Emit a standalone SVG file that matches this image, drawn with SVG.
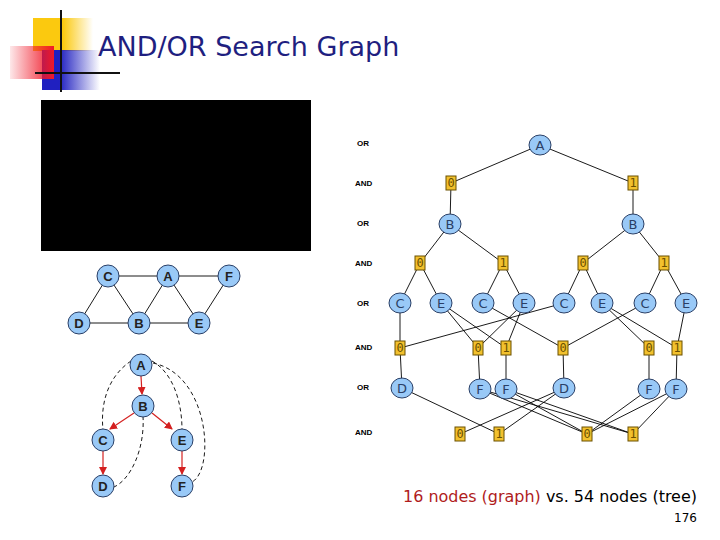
<svg xmlns="http://www.w3.org/2000/svg" width="720" height="540" viewBox="0 0 720 540">
<defs>
<style>
.c{fill:#99c9f7;stroke:#2a3f66;stroke-width:1}
.r{fill:#f2c12e;stroke:#6b5000;stroke-width:1}
.t{font-family:"DejaVu Sans",sans-serif;font-size:13px;fill:#2a3f66;text-anchor:middle;dominant-baseline:central}
.tb{font-family:"Liberation Sans",sans-serif;font-weight:bold;font-size:13px;fill:#222;text-anchor:middle;dominant-baseline:central}
.rt{font-family:"DejaVu Sans Mono",monospace;font-size:12px;fill:#6b5000;text-anchor:middle;dominant-baseline:central}
.lv{font-family:"Liberation Sans",sans-serif;font-weight:bold;font-size:8px;fill:#000}
.e line,.e path{stroke:#000;stroke-width:0.9;fill:none}
.red{stroke:#d42020!important;stroke-width:1.2!important}
.dash{stroke-dasharray:4,3}
</style>
<marker id="ah" markerWidth="8" markerHeight="8" refX="7" refY="4" orient="auto" markerUnits="userSpaceOnUse"><path d="M0,0 L8,4 L0,8 Z" fill="#d42020"/></marker>
<linearGradient id="gy" x1="0" x2="1"><stop offset="0.5" stop-color="#fbc90f"/><stop offset="1" stop-color="#fbc90f" stop-opacity="0"/></linearGradient>
<linearGradient id="gr" x1="1" x2="0"><stop offset="0" stop-color="#f01828"/><stop offset="1" stop-color="#f01828" stop-opacity="0.1"/></linearGradient>
<linearGradient id="gb" x1="0" x2="1"><stop offset="0.3" stop-color="#2020c0"/><stop offset="1" stop-color="#2020c0" stop-opacity="0"/></linearGradient>
</defs>
<rect width="720" height="540" fill="#fff"/>
<g id="logo">
<rect x="33" y="18" width="60" height="33" fill="url(#gy)"/>
<rect x="42" y="50" width="58" height="40" fill="url(#gb)"/>
<rect x="10" y="46" width="44" height="33" fill="url(#gr)"/>
<line x1="61" y1="10" x2="61" y2="92" stroke="#111" stroke-width="2"/>
<line x1="35" y1="73" x2="120" y2="73" stroke="#111" stroke-width="2"/>
</g>
<text x="98" y="56" font-family="'DejaVu Sans',sans-serif" font-size="27" fill="#1f1f80">AND/OR Search Graph</text>
<rect x="41" y="100" width="270" height="151" fill="#000"/>

<g class="e" id="connectors">
<!-- left graph -->
<line x1="108" y1="276" x2="168" y2="276"/><line x1="168" y1="276" x2="229" y2="276"/>
<line x1="108" y1="276" x2="79" y2="323"/><line x1="108" y1="276" x2="139" y2="323"/>
<line x1="168" y1="276" x2="139" y2="323"/><line x1="168" y1="276" x2="199" y2="323"/>
<line x1="229" y1="276" x2="199" y2="323"/>
<line x1="79" y1="323" x2="199" y2="323"/>
<!-- left tree -->
<line class="red" x1="141" y1="376" x2="142" y2="394" marker-end="url(#ah)"/>
<line class="red" x1="134" y1="413" x2="110" y2="429" marker-end="url(#ah)"/>
<line class="red" x1="152" y1="413" x2="172" y2="429" marker-end="url(#ah)"/>
<line class="red" x1="103" y1="451" x2="103" y2="474" marker-end="url(#ah)"/>
<line class="red" x1="182" y1="451" x2="182" y2="474" marker-end="url(#ah)"/>
<path class="dash" d="M131,361 C110,375 100,400 103,430"/>
<path class="dash" d="M152,361 C172,372 182,400 182,430"/>
<path class="dash" d="M153,363 C210,375 215,470 192,482"/>
<path class="dash" d="M143,416 C145,450 130,480 114,487"/>
<!-- right tree -->
<line x1="540" y1="145" x2="451" y2="183"/><line x1="540" y1="145" x2="633" y2="183"/>
<line x1="451" y1="183" x2="450" y2="224"/><line x1="633" y1="183" x2="633" y2="224"/>
<line x1="450" y1="224" x2="420" y2="263"/><line x1="450" y1="224" x2="503" y2="263"/>
<line x1="633" y1="224" x2="583" y2="263"/><line x1="633" y1="224" x2="664" y2="263"/>
<line x1="420" y1="263" x2="400" y2="303"/><line x1="420" y1="263" x2="441" y2="303"/>
<line x1="503" y1="263" x2="483" y2="303"/><line x1="503" y1="263" x2="524" y2="303"/>
<line x1="583" y1="263" x2="564" y2="303"/><line x1="583" y1="263" x2="602" y2="303"/>
<line x1="664" y1="263" x2="645" y2="303"/><line x1="664" y1="263" x2="686" y2="303"/>
<line x1="400" y1="303" x2="400" y2="348"/>
<line x1="441" y1="303" x2="478" y2="348"/><line x1="441" y1="303" x2="506" y2="348"/>
<line x1="524" y1="303" x2="478" y2="348"/><line x1="524" y1="303" x2="506" y2="348"/>
<line x1="564" y1="303" x2="400" y2="348"/>
<line x1="483" y1="303" x2="563" y2="348"/><line x1="645" y1="303" x2="563" y2="348"/>
<line x1="602" y1="303" x2="649" y2="348"/><line x1="602" y1="303" x2="677" y2="348"/>
<line x1="686" y1="303" x2="677" y2="348"/>
<line x1="400" y1="348" x2="402" y2="388"/><line x1="478" y1="348" x2="480" y2="389"/>
<line x1="506" y1="348" x2="506" y2="389"/><line x1="563" y1="348" x2="564" y2="388"/>
<line x1="649" y1="348" x2="649" y2="389"/><line x1="677" y1="348" x2="676" y2="389"/>
<line x1="402" y1="388" x2="499" y2="434"/>
<line x1="480" y1="389" x2="587" y2="434"/><line x1="480" y1="389" x2="633" y2="434"/>
<line x1="506" y1="389" x2="587" y2="434"/><line x1="506" y1="389" x2="633" y2="434"/>
<line x1="564" y1="388" x2="460" y2="434"/><line x1="564" y1="388" x2="499" y2="434"/>
<line x1="649" y1="389" x2="587" y2="434"/>
<line x1="676" y1="389" x2="587" y2="434"/><line x1="676" y1="389" x2="633" y2="434"/>
</g>

<g id="g-left">
<g id="lC"><circle class="c" cx="108" cy="276" r="11"/><text class="tb" x="108" y="276">C</text></g>
<g id="lA"><circle class="c" cx="168" cy="276" r="11"/><text class="tb" x="168" y="276">A</text></g>
<g id="lF"><circle class="c" cx="229" cy="276" r="11"/><text class="tb" x="229" y="276">F</text></g>
<g id="lD"><circle class="c" cx="79" cy="323" r="11"/><text class="tb" x="79" y="323">D</text></g>
<g id="lB"><circle class="c" cx="139" cy="323" r="11"/><text class="tb" x="139" y="323">B</text></g>
<g id="lE"><circle class="c" cx="199" cy="323" r="11"/><text class="tb" x="199" y="323">E</text></g>
<g id="tA"><circle class="c" cx="141" cy="365" r="11"/><text class="tb" x="141" y="365">A</text></g>
<g id="tB"><circle class="c" cx="143" cy="406" r="11"/><text class="tb" x="143" y="406">B</text></g>
<g id="tC"><circle class="c" cx="103" cy="440" r="11"/><text class="tb" x="103" y="440">C</text></g>
<g id="tE"><circle class="c" cx="182" cy="440" r="11"/><text class="tb" x="182" y="440">E</text></g>
<g id="tD"><circle class="c" cx="103" cy="486" r="11"/><text class="tb" x="103" y="486">D</text></g>
<g id="tF"><circle class="c" cx="182" cy="486" r="11"/><text class="tb" x="182" y="486">F</text></g>
</g>

<g id="levels">
<text class="lv" x="357" y="146">OR</text><text class="lv" x="355" y="186">AND</text>
<text class="lv" x="357" y="226">OR</text><text class="lv" x="355" y="266">AND</text>
<text class="lv" x="357" y="306">OR</text><text class="lv" x="355" y="350">AND</text>
<text class="lv" x="357" y="390">OR</text><text class="lv" x="355" y="435">AND</text>
</g>

<g id="g-tree">
<g id="nA"><ellipse class="c" cx="540" cy="145" rx="11" ry="10"/><text class="t" x="540" y="145">A</text></g>
<g id="n0a"><rect class="r" x="446" y="176" width="10" height="14"/><text class="rt" x="451" y="183">0</text></g>
<g id="n1a"><rect class="r" x="628" y="176" width="10" height="14"/><text class="rt" x="633" y="183">1</text></g>
<g id="nB1"><ellipse class="c" cx="450" cy="224" rx="11" ry="10"/><text class="t" x="450" y="224">B</text></g>
<g id="nB2"><ellipse class="c" cx="633" cy="224" rx="11" ry="10"/><text class="t" x="633" y="224">B</text></g>
<g id="n0b"><rect class="r" x="415" y="256" width="10" height="14"/><text class="rt" x="420" y="263">0</text></g>
<g id="n1b"><rect class="r" x="498" y="256" width="10" height="14"/><text class="rt" x="503" y="263">1</text></g>
<g id="n0c"><rect class="r" x="578" y="256" width="10" height="14"/><text class="rt" x="583" y="263">0</text></g>
<g id="n1c"><rect class="r" x="659" y="256" width="10" height="14"/><text class="rt" x="664" y="263">1</text></g>
<g id="nC1"><ellipse class="c" cx="400" cy="303" rx="11" ry="10"/><text class="t" x="400" y="303">C</text></g>
<g id="nE1"><ellipse class="c" cx="441" cy="303" rx="11" ry="10"/><text class="t" x="441" y="303">E</text></g>
<g id="nC2"><ellipse class="c" cx="483" cy="303" rx="11" ry="10"/><text class="t" x="483" y="303">C</text></g>
<g id="nE2"><ellipse class="c" cx="524" cy="303" rx="11" ry="10"/><text class="t" x="524" y="303">E</text></g>
<g id="nC3"><ellipse class="c" cx="564" cy="303" rx="11" ry="10"/><text class="t" x="564" y="303">C</text></g>
<g id="nE3"><ellipse class="c" cx="602" cy="303" rx="11" ry="10"/><text class="t" x="602" y="303">E</text></g>
<g id="nC4"><ellipse class="c" cx="645" cy="303" rx="11" ry="10"/><text class="t" x="645" y="303">C</text></g>
<g id="nE4"><ellipse class="c" cx="686" cy="303" rx="11" ry="10"/><text class="t" x="686" y="303">E</text></g>
<g id="n0d"><rect class="r" x="395" y="341" width="10" height="14"/><text class="rt" x="400" y="348">0</text></g>
<g id="n0e"><rect class="r" x="473" y="341" width="10" height="14"/><text class="rt" x="478" y="348">0</text></g>
<g id="n1e"><rect class="r" x="501" y="341" width="10" height="14"/><text class="rt" x="506" y="348">1</text></g>
<g id="n0f"><rect class="r" x="558" y="341" width="10" height="14"/><text class="rt" x="563" y="348">0</text></g>
<g id="n0g"><rect class="r" x="644" y="341" width="10" height="14"/><text class="rt" x="649" y="348">0</text></g>
<g id="n1g"><rect class="r" x="672" y="341" width="10" height="14"/><text class="rt" x="677" y="348">1</text></g>
<g id="nD1"><ellipse class="c" cx="402" cy="388" rx="11" ry="10"/><text class="t" x="402" y="388">D</text></g>
<g id="nF1"><ellipse class="c" cx="480" cy="389" rx="11" ry="10"/><text class="t" x="480" y="389">F</text></g>
<g id="nF2"><ellipse class="c" cx="506" cy="389" rx="11" ry="10"/><text class="t" x="506" y="389">F</text></g>
<g id="nD2"><ellipse class="c" cx="564" cy="388" rx="11" ry="10"/><text class="t" x="564" y="388">D</text></g>
<g id="nF3"><ellipse class="c" cx="649" cy="389" rx="11" ry="10"/><text class="t" x="649" y="389">F</text></g>
<g id="nF4"><ellipse class="c" cx="676" cy="389" rx="11" ry="10"/><text class="t" x="676" y="389">F</text></g>
<g id="n0h"><rect class="r" x="455" y="427" width="10" height="14"/><text class="rt" x="460" y="434">0</text></g>
<g id="n1h"><rect class="r" x="494" y="427" width="10" height="14"/><text class="rt" x="499" y="434">1</text></g>
<g id="n0i"><rect class="r" x="582" y="427" width="10" height="14"/><text class="rt" x="587" y="434">0</text></g>
<g id="n1i"><rect class="r" x="628" y="427" width="10" height="14"/><text class="rt" x="633" y="434">1</text></g>
</g>

<text x="403" y="502" font-family="'DejaVu Sans',sans-serif" font-size="16" textLength="294" lengthAdjust="spacingAndGlyphs"><tspan fill="#b01c1c">16 nodes (graph)</tspan><tspan fill="#000"> vs. 54 nodes (tree)</tspan></text>
<text x="697" y="522" font-family="'DejaVu Sans',sans-serif" font-size="12" text-anchor="end" fill="#000">176</text>
</svg>
